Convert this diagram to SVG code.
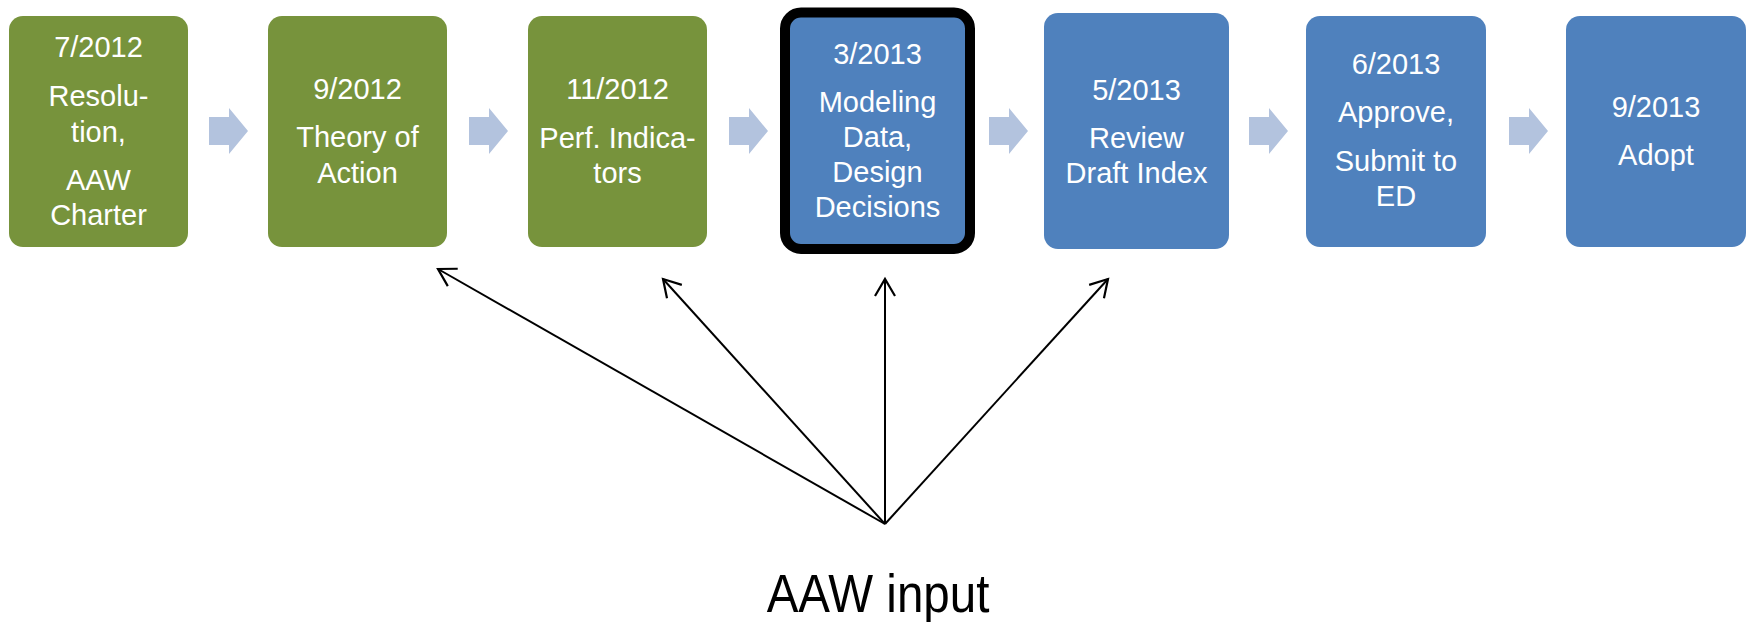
<svg xmlns="http://www.w3.org/2000/svg" width="1754" height="622" viewBox="0 0 1754 622">
<style>
.g{fill:#77933C}
.b{fill:#4F81BD}
.t{font-family:"Liberation Sans",Arial,sans-serif;font-size:29px;fill:#FFFFFF;text-anchor:middle}
.ch{fill:#B3C3DE}
.c{stroke:#000;stroke-width:2;fill:none}
</style>
<defs>
<marker id="ah" markerUnits="userSpaceOnUse" markerWidth="40" markerHeight="40" viewBox="-20 -20 40 40" refX="0" refY="0" orient="auto">
<path d="M-17,-10 L0,0 L-17,10" fill="none" stroke="#000" stroke-width="2.2"/>
</marker>
</defs>
<rect width="1754" height="622" fill="#FFFFFF"/>
<g id="chevrons">
<path class="ch" d="M209,117 H229 V108 L248,131 L229,154 V145 H209 Z"/>
<path class="ch" d="M469,117 H489 V108 L508,131 L489,154 V145 H469 Z"/>
<path class="ch" d="M729,117 H749 V108 L768,131 L749,154 V145 H729 Z"/>
<path class="ch" d="M989,117 H1009 V108 L1028,131 L1009,154 V145 H989 Z"/>
<path class="ch" d="M1249,117 H1269 V108 L1288,131 L1269,154 V145 H1249 Z"/>
<path class="ch" d="M1509,117 H1529 V108 L1548,131 L1529,154 V145 H1509 Z"/>
</g>
<g id="n1">
<rect class="g" x="9" y="16" width="179" height="231" rx="14"/>
<text class="t" x="98.5" y="57">7/2012</text>
<text class="t" x="98.5" y="106">Resolu-</text>
<text class="t" x="98.5" y="142">tion,</text>
<text class="t" x="98.5" y="190">AAW</text>
<text class="t" x="98.5" y="225">Charter</text>
</g>
<g id="n2">
<rect class="g" x="268" y="16" width="179" height="231" rx="14"/>
<text class="t" x="357.5" y="99">9/2012</text>
<text class="t" x="357.5" y="147">Theory of</text>
<text class="t" x="357.5" y="183">Action</text>
</g>
<g id="n3">
<rect class="g" x="528" y="16" width="179" height="231" rx="14"/>
<text class="t" x="617.5" y="99">11/2012</text>
<text class="t" x="617.5" y="148">Perf. Indica-</text>
<text class="t" x="617.5" y="183">tors</text>
</g>
<g id="n4">
<rect class="b" x="785" y="12.5" width="185" height="236.5" rx="16" stroke="#000" stroke-width="10"/>
<text class="t" x="877.5" y="64">3/2013</text>
<text class="t" x="877.5" y="112">Modeling</text>
<text class="t" x="877.5" y="147">Data,</text>
<text class="t" x="877.5" y="182">Design</text>
<text class="t" x="877.5" y="217">Decisions</text>
</g>
<g id="n5">
<rect class="b" x="1044" y="13" width="185" height="236" rx="14"/>
<text class="t" x="1136.5" y="100">5/2013</text>
<text class="t" x="1136.5" y="148">Review</text>
<text class="t" x="1136.5" y="183">Draft Index</text>
</g>
<g id="n6">
<rect class="b" x="1306" y="16" width="180" height="231" rx="14"/>
<text class="t" x="1396" y="74">6/2013</text>
<text class="t" x="1396" y="122">Approve,</text>
<text class="t" x="1396" y="171">Submit to</text>
<text class="t" x="1396" y="206">ED</text>
</g>
<g id="n7">
<rect class="b" x="1566" y="16" width="180" height="231" rx="14"/>
<text class="t" x="1656" y="117">9/2013</text>
<text class="t" x="1656" y="165">Adopt</text>
</g>
<g id="connectors">
<line class="c" x1="885" y1="524" x2="438" y2="269" marker-end="url(#ah)"/>
<line class="c" x1="885" y1="524" x2="663" y2="279" marker-end="url(#ah)"/>
<line class="c" x1="885" y1="524" x2="885" y2="279" marker-end="url(#ah)"/>
<line class="c" x1="885" y1="524" x2="1108" y2="279" marker-end="url(#ah)"/>
</g>
<g id="label">
<text transform="translate(878,612) scale(0.88,1)" x="0" y="0" font-family="'Liberation Sans',Arial,sans-serif" font-size="54" fill="#000" text-anchor="middle">AAW input</text>
</g>
</svg>
